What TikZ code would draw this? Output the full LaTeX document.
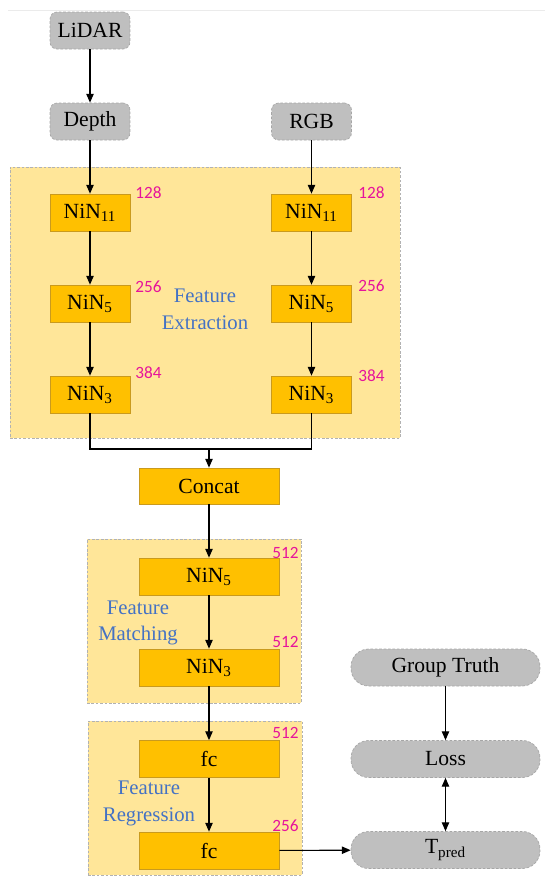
\documentclass[tikz,border=0pt]{standalone}
\usepackage{fontspec}
\setmainfont{Liberation Serif}
\newfontfamily\timesfont{Liberation Serif}
\newfontfamily\numfont{Carlito}
\usetikzlibrary{arrows.meta}

\definecolor{goldbox}{HTML}{FFC000}
\definecolor{goldline}{HTML}{C99A1E}
\definecolor{regionfill}{HTML}{FFE699}
\definecolor{inputgray}{HTML}{BFBFBF}
\definecolor{numpink}{HTML}{E6149B}
\definecolor{titleblue}{HTML}{4472C4}

\begin{document}
\begin{tikzpicture}[
    x=0.02cm, y=-0.02cm,
    % Input / output box style
    iobox/.style={
        rectangle,
        rounded corners=4pt,
        draw=black!35,
        dash pattern=on 1.5pt off 1pt,
        fill=inputgray,
        minimum width=1.6cm,
        minimum height=0.74cm,
        font=\timesfont\fontsize{12.3}{14}\selectfont
    },
    % Pill box style
    pillbox/.style={
        iobox,
        rounded corners=10pt,
        minimum width=3.78cm
    },
    % Layer box style
    netbox/.style={
        rectangle,
        draw=goldline,
        fill=goldbox,
        minimum width=1.6cm,
        minimum height=0.74cm,
        font=\timesfont\fontsize{12.3}{14}\selectfont
    },
    % Region style
    region/.style={
        rectangle,
        draw=black!30,
        dash pattern=on 1.5pt off 1pt,
        fill=regionfill
    },
    % Arrow style
    arrow/.style={
        -{Triangle[length=5pt,width=4.2pt]},
        line width=0.6pt
    },
    % Channel count style
    num/.style={
        font=\numfont\fontsize{9.8}{11}\selectfont,
        text=numpink,
        inner sep=0pt
    },
    % Region title style
    ttl/.style={
        font=\timesfont\fontsize{11.8}{15.3}\selectfont,
        text=titleblue,
        align=center
    }
]
\useasboundingbox (0,0) rectangle (550,883);
\draw[black!8] (8,10) -- (545,10);

% === Regions ===
\node[region, minimum width=7.8cm, minimum height=5.42cm] (fe) at (205,302.5) {};
\node[region, minimum width=4.28cm, minimum height=3.28cm] (fm) at (194,621) {};
\node[region, minimum width=4.28cm, minimum height=3.08cm] (fr) at (195,798) {};

% === Inputs ===
\node[iobox] (lidar) at (90,30.5) {LiDAR};
\node[iobox] (depth) at (90,121.5) {Depth};
\node[iobox] (rgb) at (311.5,121.5) {RGB};

% === Feature extraction ===
\node[netbox] (nin11l) at (90,212.5) {NiN\textsubscript{11}};
\node[netbox] (nin5l) at (90,303.5) {NiN\textsubscript{5}};
\node[netbox] (nin3l) at (90,394.5) {NiN\textsubscript{3}};
\node[netbox] (nin11r) at (311.5,212.5) {NiN\textsubscript{11}};
\node[netbox] (nin5r) at (311.5,303.5) {NiN\textsubscript{5}};
\node[netbox] (nin3r) at (311.5,394.5) {NiN\textsubscript{3}};

\node[num, anchor=west] (n128l) at (135,193) {128};
\node[num, anchor=west] (n256l) at (135,287) {256};
\node[num, anchor=west] (n384l) at (135,373) {384};
\node[num, anchor=west] (n128r) at (358,193) {128};
\node[num, anchor=west] (n256r) at (358,286) {256};
\node[num, anchor=west] (n384r) at (358,376) {384};

\node[ttl] (fetitle) at (205,309) {Feature\\Extraction};

% === Concat ===
\coordinate (merge) at (209,449);
\node[netbox, minimum width=2.8cm, minimum height=0.72cm] (concat) at (209,486) {Concat};

% === Feature matching ===
\node[netbox, minimum width=2.8cm] (nin5m) at (209,576.5) {NiN\textsubscript{5}};
\node[netbox, minimum width=2.8cm] (nin3m) at (209,667.5) {NiN\textsubscript{3}};
\node[num, anchor=east] (n512a) at (299,553) {512};
\node[num, anchor=east] (n512b) at (299,642) {512};
\node[ttl] (fmtitle) at (138,623) {Feature\\Matching};

% === Feature regression ===
\node[netbox, minimum width=2.8cm] (fc1) at (209,759) {fc};
\node[netbox, minimum width=2.8cm] (fc2) at (209,850.5) {fc};
\node[num, anchor=east] (n512c) at (299,733) {512};
\node[num, anchor=east] (n256c) at (299,826) {256};
\node[ttl] (frtitle) at (149,803) {Feature\\Regression};

% === Loss branch ===
\node[pillbox] (truth) at (445.5,667.5) {Group Truth};
\node[pillbox] (loss) at (445.5,759) {Loss};
\node[pillbox] (tpred) at (445.5,850) {T\textsubscript{pred}};

% === Arrows ===
\draw[arrow] (lidar) -- (depth);
\draw[arrow] (depth) -- (nin11l);
\draw[arrow] (nin11l) -- (nin5l);
\draw[arrow] (nin5l) -- (nin3l);
\draw[arrow] (rgb) -- (nin11r);
\draw[arrow] (nin11r) -- (nin5r);
\draw[arrow] (nin5r) -- (nin3r);
\draw[line width=0.6pt] (nin3l.south) |- (merge) -| (nin3r.south);
\draw[arrow] (merge) -- (concat);
\draw[arrow] (concat) -- (nin5m);
\draw[arrow] (nin5m) -- (nin3m);
\draw[arrow] (nin3m) -- (fc1);
\draw[arrow] (fc1) -- (fc2);
\draw[arrow] (fc2) -- (tpred);
\draw[arrow] (truth) -- (loss);
\draw[line width=0.6pt, {Triangle[length=5pt,width=4.2pt]}-{Triangle[length=5pt,width=4.2pt]}] (loss) -- (tpred);

\end{tikzpicture}
\end{document}
